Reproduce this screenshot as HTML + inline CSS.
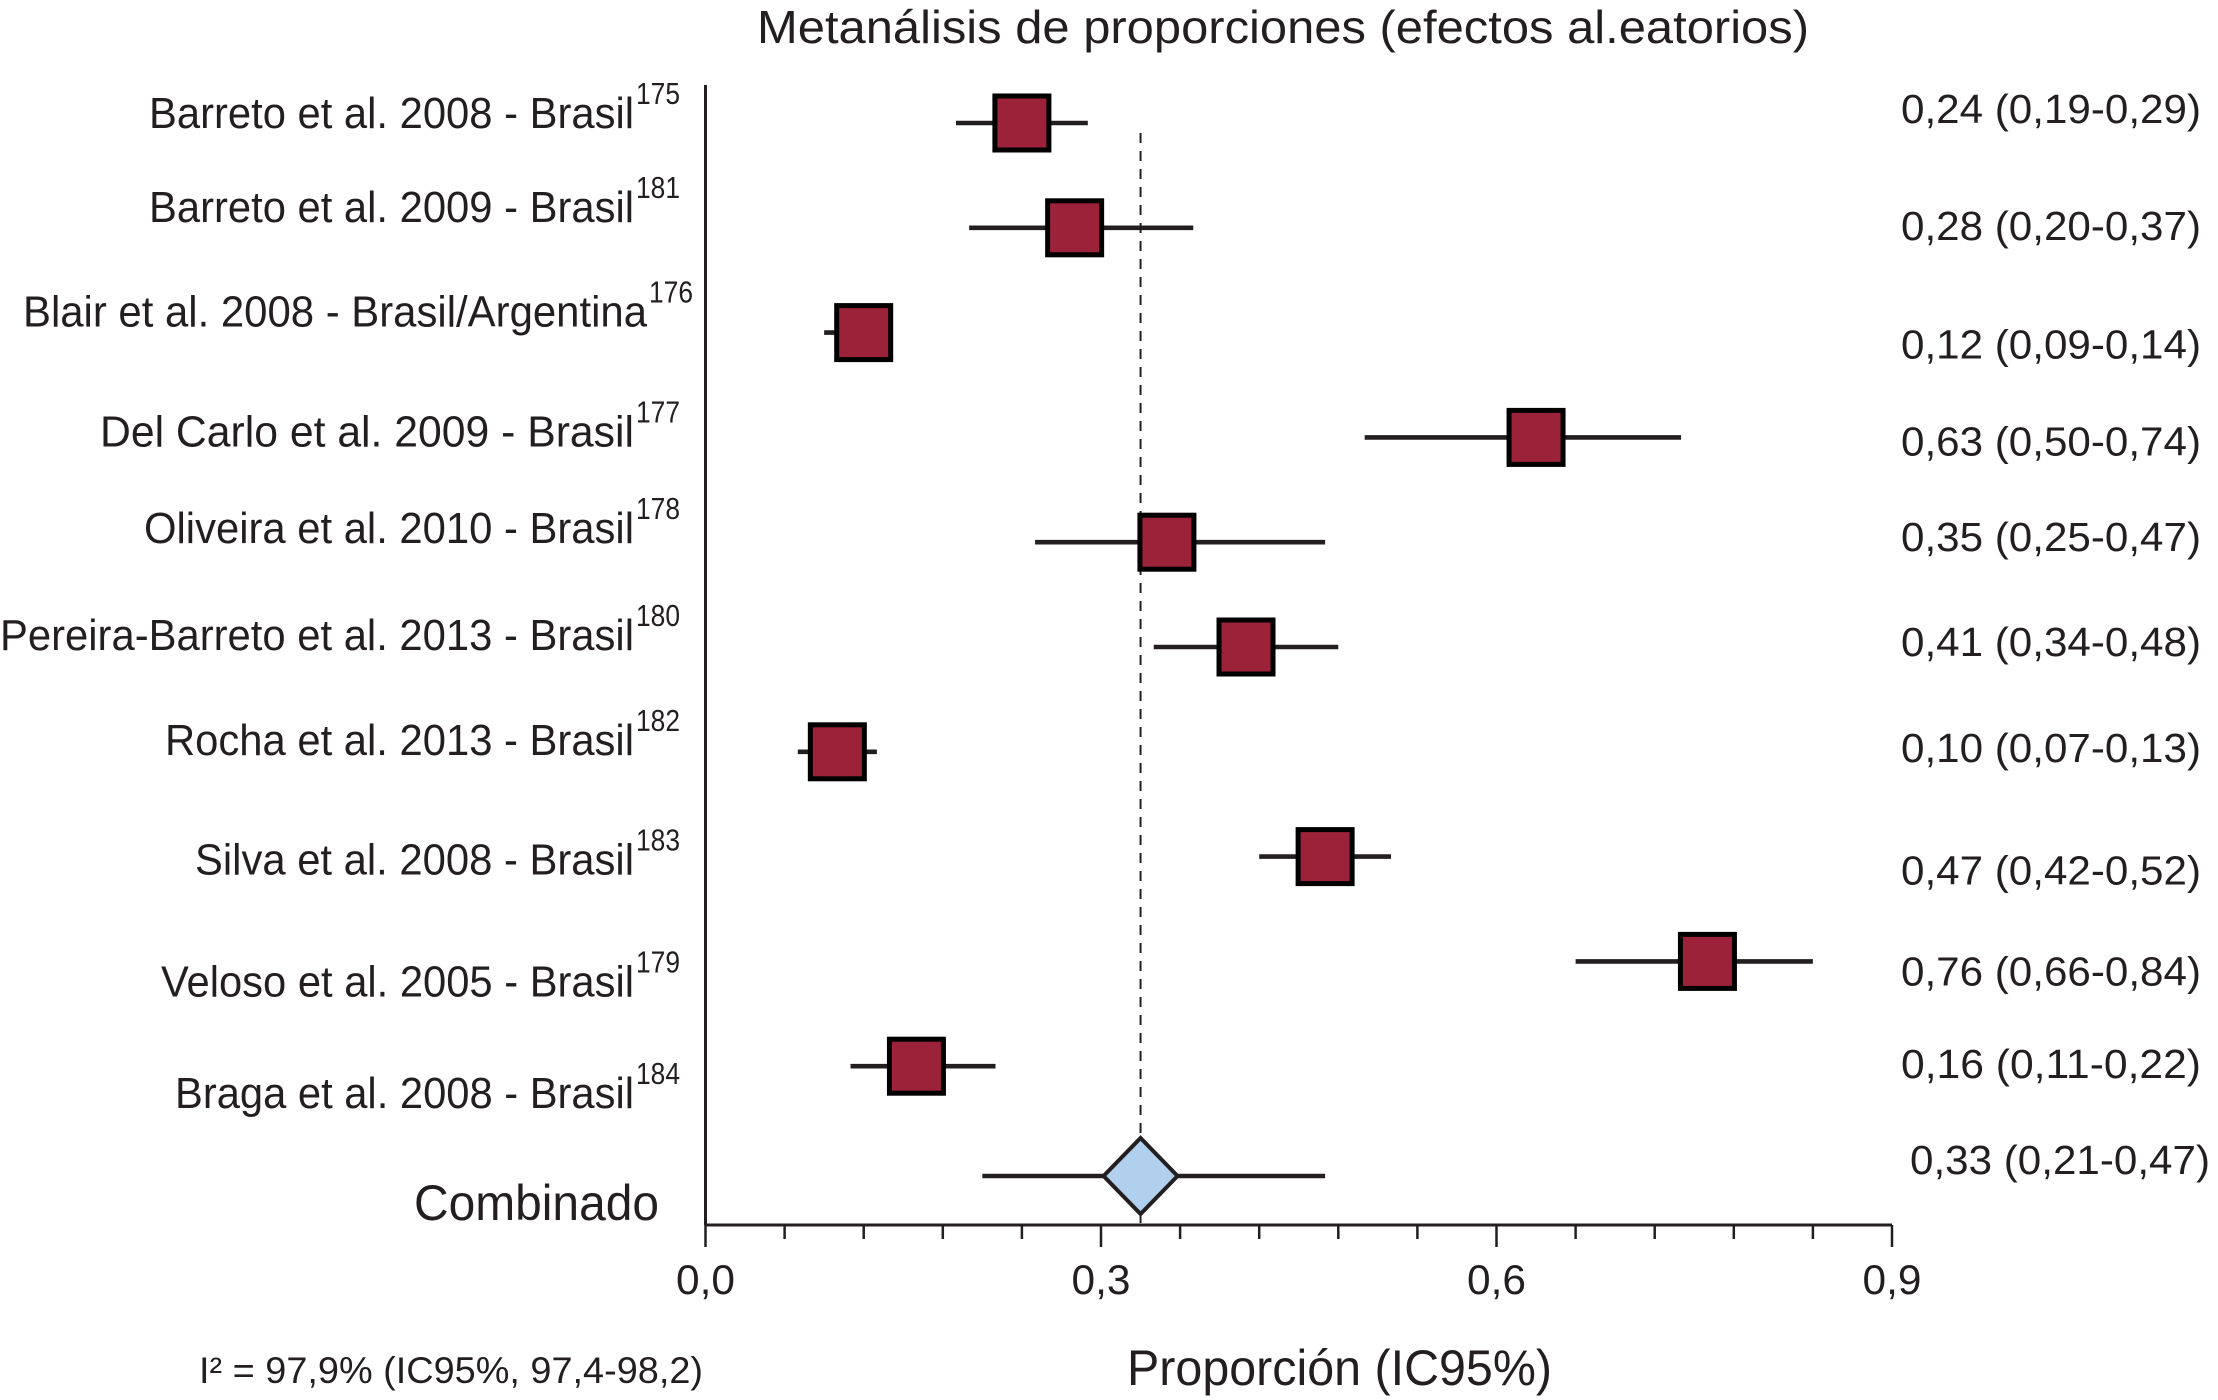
<!DOCTYPE html>
<html><head><meta charset="utf-8"><style>
html,body{margin:0;padding:0;background:#fff;}
svg{display:block;}
text{fill:#231f20;}
.lab{font-family:"Liberation Sans Narrow","Liberation Sans",sans-serif;font-size:44px;}
.val{font-family:"Liberation Sans",sans-serif;font-size:41px;}
</style></head><body>
<svg id="chart" width="2218" height="1400" viewBox="0 0 2218 1400" xmlns="http://www.w3.org/2000/svg">
<text class="lab" style="font-size:46px" x="757" y="43" textLength="1052" lengthAdjust="spacingAndGlyphs">Metanálisis de proporciones (efectos al.eatorios)</text>
<g id="marks"></g>
<text class="lab" style="font-size:37px" x="199" y="1383" textLength="504" lengthAdjust="spacingAndGlyphs">I² = 97,9% (IC95%, 97,4-98,2)</text>
<text class="lab" style="font-size:50px" x="1127" y="1385" textLength="425" lengthAdjust="spacingAndGlyphs">Proporción (IC95%)</text>
</svg>
<script>
const studies = ["Barreto et al. 2008 - Brasil","Barreto et al. 2009 - Brasil","Blair et al. 2008 - Brasil/Argentina","Del Carlo et al. 2009 -  Brasil","Oliveira et al. 2010 - Brasil","Pereira-Barreto et al. 2013 - Brasil","Rocha et al. 2013 - Brasil","Silva et al. 2008 - Brasil","Veloso et al. 2005 - Brasil","Braga et al. 2008 - Brasil"];
const refs = ["175","181","176","177","178","180","182","183","179","184"];
const estimates = [0.24,0.28,0.12,0.63,0.35,0.41,0.10,0.47,0.76,0.16];
const lower = [0.19,0.20,0.09,0.50,0.25,0.34,0.07,0.42,0.66,0.11];
const upper = [0.29,0.37,0.14,0.74,0.47,0.48,0.13,0.52,0.84,0.22];
const pooled = [0.33,0.21,0.47];
const xTicks = [0,0.06,0.12,0.18,0.24,0.3,0.36,0.42,0.48,0.54,0.6,0.66,0.72,0.78,0.84,0.9];
const xTickLabels = ["0,0","0,3","0,6","0,9"];
const xTickLabelValues = [0,0.3,0.6,0.9];

const NS="http://www.w3.org/2000/svg";
const g=document.getElementById('marks');
const X0=705.5,X1=1892,YA=1225;
function xs(v){return X0+(v/0.9)*(X1-X0);}
function ys(i){return 123+i*104.8;}
function fmt(v){return v.toFixed(2).replace('.',',');}
function mk(tag,at){const e=document.createElementNS(NS,tag);for(const k in at)e.setAttribute(k,at[k]);g.appendChild(e);return e;}

let a=mk('line',{x1:X0,y1:85,x2:X0,y2:YA,stroke:'#231f20','stroke-width':3});


a=mk('line',{x1:X0,y1:YA,x2:X1,y2:YA,stroke:'#231f20','stroke-width':3});


xTicks.forEach((t,i)=>{
  const major=i%5===0;
  const e=mk('line',{x1:xs(t),y1:YA,x2:xs(t),y2:YA+(major?22:14),stroke:'#231f20','stroke-width':2.5});
  
  
});
xTickLabelValues.forEach((t,i)=>{
  const e=mk('text',{x:xs(t),y:1294,'text-anchor':'middle',class:'lab',style:'font-size:42px',textLength:59,lengthAdjust:'spacingAndGlyphs'});
  e.textContent=xTickLabels[i];
  
  
});
a=mk('line',{x1:xs(pooled[0]),y1:133,x2:xs(pooled[0]),y2:YA,stroke:'#231f20','stroke-width':2,'stroke-dasharray':'10,8'});



const labelStart=[149,149,23,100,144,0,165,195,161,175];
const labelEnd=[634,634,647,634,634,634,634,634,634,634];
const labelDy=[5,-6,-6,9,1,3,3,18,35,42];
const valDy=[0,12,26,18,9,9,10,28,24,12];
studies.forEach((s,i)=>{
  const y=ys(i);
  const ci=mk('line',{x1:xs(lower[i]),y1:y,x2:xs(upper[i]),y2:y,stroke:'#231f20','stroke-width':4.6});
  
  
  const sq=mk('rect',{x:xs(estimates[i])-27,y:y-27,width:54,height:54,fill:'#9b2238',stroke:'#000','stroke-width':5});
  
  
  const lt=mk('text',{x:labelStart[i],y:y+labelDy[i],class:'lab',textLength:labelEnd[i]-labelStart[i],lengthAdjust:'spacingAndGlyphs'});
  lt.textContent=s;
  
  
  const sup=mk('text',{x:labelEnd[i]+2,y:y+labelDy[i]-24,class:'lab',style:'font-size:31px',textLength:44,lengthAdjust:'spacingAndGlyphs'});
  sup.textContent=refs[i];
  
  
  const vt=mk('text',{x:1901,y:y+valDy[i],class:'val',textLength:300,lengthAdjust:'spacingAndGlyphs'});
  vt.textContent=fmt(estimates[i])+' ('+fmt(lower[i])+'-'+fmt(upper[i])+')';
  
  
});
const yp=1176;
a=mk('line',{x1:xs(pooled[1]),y1:yp,x2:xs(pooled[2]),y2:yp,stroke:'#231f20','stroke-width':4.6});


const cx=xs(pooled[0]);
a=mk('polygon',{points:`${cx},${yp-38} ${cx+37},${yp} ${cx},${yp+38} ${cx-37},${yp}`,fill:'#b0d0ee',stroke:'#231f20','stroke-width':4});


a=mk('text',{x:414,y:1220,class:'lab',style:'font-size:50px',textLength:245,lengthAdjust:'spacingAndGlyphs'});
a.textContent='Combinado';


a=mk('text',{x:1910,y:1174,class:'val',textLength:300,lengthAdjust:'spacingAndGlyphs'});
a.textContent=fmt(pooled[0])+' ('+fmt(pooled[1])+'-'+fmt(pooled[2])+')';


</script>
</body></html>
